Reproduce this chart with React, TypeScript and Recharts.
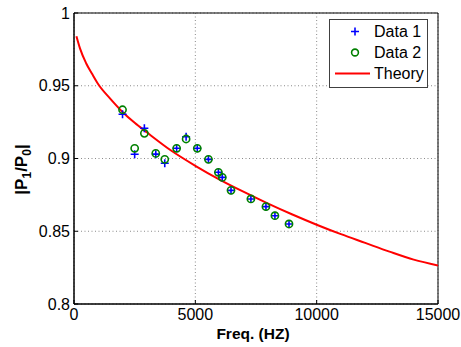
import React from 'react';
import {
  ComposedChart,
  Scatter,
  Line,
  XAxis,
  YAxis,
  CartesianGrid,
  ReferenceArea,
  Legend,
} from 'recharts';

// Measured frequencies (Hz)
const measFreqs = [2000, 2500, 2900, 3370, 3740, 4230, 4620, 5080, 5540, 5950, 6110, 6470, 7290, 7910, 8280, 8860];
// |P1/P0| values
const data1Values = [0.9304, 0.9029, 0.9208, 0.903, 0.8967, 0.907, 0.915, 0.907, 0.8994, 0.8905, 0.887, 0.8781, 0.8722, 0.8669, 0.8607, 0.855];
const data2Values = [0.9335, 0.907, 0.9173, 0.9035, 0.8994, 0.907, 0.9134, 0.907, 0.8994, 0.8905, 0.887, 0.8781, 0.8722, 0.8669, 0.8607, 0.855];

// Theory curve samples
const theoryFreqs = [100, 250, 500, 750, 1000, 1500, 2000, 2500, 3000, 4000, 5000, 6000, 7000, 8000, 9000, 10000, 11000, 12000, 13000, 14000, 15000];
const theoryValues = [0.984, 0.9755, 0.9655, 0.958, 0.951, 0.941, 0.932, 0.9245, 0.918, 0.9055, 0.895, 0.8855, 0.877, 0.869, 0.8615, 0.8545, 0.848, 0.842, 0.836, 0.8305, 0.8265];

const xTicks = [0, 5000, 10000, 15000];
const yTicks = [0.8, 0.85, 0.9, 0.95, 1];
const seriesNames = ['Data 1', 'Data 2', 'Theory'];

const data1 = measFreqs.map((f, i) => ({ f, v: data1Values[i] }));
const data2 = measFreqs.map((f, i) => ({ f, v: data2Values[i] }));
const theory = theoryFreqs.map((f, i) => ({ f, v: theoryValues[i] }));

const FONT = '"Liberation Sans", Arial, Helvetica, sans-serif';
const BLUE = '#0000ff';
const GREEN = '#008000';
const RED = '#ff0000';

const PlusShape = (props: any) => {
  const { cx, cy } = props;
  if (cx == null || cy == null) return null;
  return (
    <path
      d={`M${cx - 4},${cy}h8M${cx},${cy - 4}v8`}
      stroke={BLUE}
      strokeWidth={1.6}
      fill="none"
    />
  );
};

const CircleShape = (props: any) => {
  const { cx, cy } = props;
  if (cx == null || cy == null) return null;
  return <circle cx={cx} cy={cy} r={3.6} fill="none" stroke={GREEN} strokeWidth={1.6} />;
};

const YLabel = (props: any) => {
  const vb = props.viewBox || {};
  const x = (vb.x || 0) + 27;
  const y = (vb.y || 0) + (vb.height || 0) / 2 + 11;
  return (
    <text
      x={x}
      y={y}
      transform={`rotate(-90, ${x}, ${y})`}
      textAnchor="middle"
      fontFamily={FONT}
      fontWeight="bold"
      fontSize={17}
      fill="#000"
    >
      <tspan>|P</tspan>
      <tspan fontSize={12} dy={4}>1</tspan>
      <tspan dy={-4}>/P</tspan>
      <tspan fontSize={12} dy={4}>0</tspan>
      <tspan dy={-4}>|</tspan>
    </text>
  );
};

const XLabel = (props: any) => {
  const vb = props.viewBox || {};
  const x = (vb.x || 0) + (vb.width || 0) / 2 - 3;
  const y = (vb.y || 0) + 35;
  return (
    <text x={x} y={y} textAnchor="middle" fontFamily={FONT} fontWeight="bold" fontSize={15.5} fill="#000">
      Freq. (HZ)
    </text>
  );
};

const LegendBox = () => {
  const rowStyle: React.CSSProperties = {
    display: 'flex',
    alignItems: 'center',
    height: 21,
  };
  const iconBox: React.CSSProperties = { width: 40, height: 21, display: 'block' };
  return (
    <div
      style={{
        border: '1px solid #404040',
        background: '#fff',
        width: 97,
        height: 65,
        padding: '1px 0',
        boxSizing: 'content-box',
        fontFamily: FONT,
        fontSize: 16,
        color: '#000',
      }}
    >
      <div style={rowStyle}>
        <svg style={iconBox}>
          <path d="M21,10.5h8M25,6.5v8" stroke={BLUE} strokeWidth={1.6} />
        </svg>
        <span style={{ marginLeft: 4 }}>{seriesNames[0]}</span>
      </div>
      <div style={rowStyle}>
        <svg style={iconBox}>
          <circle cx={25} cy={10.5} r={3.4} fill="none" stroke={GREEN} strokeWidth={1.6} />
        </svg>
        <span style={{ marginLeft: 4 }}>{seriesNames[1]}</span>
      </div>
      <div style={rowStyle}>
        <svg style={iconBox}>
          <path d="M5,10.5h36" stroke={RED} strokeWidth={2} />
        </svg>
        <span style={{ marginLeft: 4 }}>{seriesNames[2]}</span>
      </div>
    </div>
  );
};

export default function App() {
  return (
    <div style={{ position: 'absolute', left: 0, top: 0, background: '#fff' }}>
      <ComposedChart
        width={461}
        height={347}
        margin={{ top: 13, right: 23, bottom: 0, left: 0 }}
      >
        <CartesianGrid
          stroke="#8a8a8a"
          strokeDasharray="1 2.5"
          strokeWidth={1}
          vertical
          horizontal
        />
        <XAxis
          type="number"
          dataKey="f"
          domain={[0, 15000]}
          ticks={xTicks}
          allowDataOverflow
          height={43}
          axisLine={{ stroke: '#000' }}
          tickLine={{ stroke: '#000' }}
          tickSize={-4}
          tickMargin={9}
          tick={{ fill: '#000', fontSize: 16, fontFamily: FONT }}
          interval={0}
          label={<XLabel />}
        />
        <YAxis
          type="number"
          dataKey="v"
          domain={[0.8, 1]}
          ticks={yTicks}
          allowDataOverflow
          width={74}
          axisLine={{ stroke: '#000' }}
          tickLine={{ stroke: '#000' }}
          tickSize={-4}
          tickMargin={8}
          tick={{ fill: '#000', fontSize: 16, fontFamily: FONT }}
          interval={0}
          label={<YLabel />}
        />
        <ReferenceArea
          x1={0}
          x2={15000}
          y1={0.8}
          y2={1}
          fill="none"
          fillOpacity={0}
          stroke="#000"
          strokeWidth={1}
        />
        <Scatter
          name={seriesNames[0]}
          data={data1}
          dataKey="v"
          shape={<PlusShape />}
          isAnimationActive={false}
        />
        <Scatter
          name={seriesNames[1]}
          data={data2}
          dataKey="v"
          shape={<CircleShape />}
          isAnimationActive={false}
        />
        <Line
          name={seriesNames[2]}
          data={theory}
          dataKey="v"
          type="monotone"
          stroke={RED}
          strokeWidth={2}
          dot={false}
          activeDot={false}
          isAnimationActive={false}
        />
        <Legend
          layout="vertical"
          align="center"
          verticalAlign="middle"
          wrapperStyle={{ left: 329, top: 19, width: 99, height: 67 }}
          content={() => <LegendBox />}
        />
      </ComposedChart>
    </div>
  );
}
